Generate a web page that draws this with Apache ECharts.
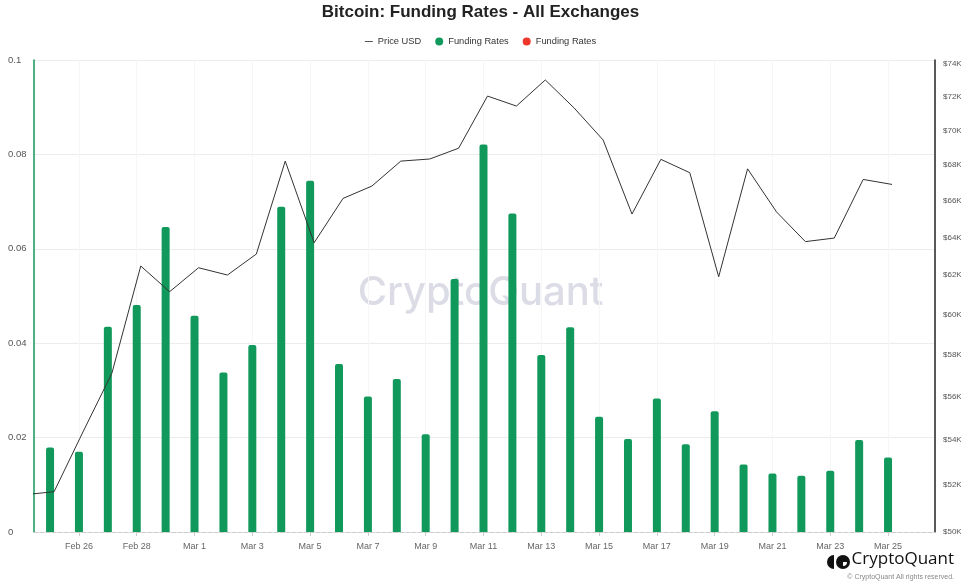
<!DOCTYPE html>
<html>
<head>
<meta charset="utf-8">
<script src="https://cdn.jsdelivr.net/npm/echarts@6/dist/echarts.min.js"></script>
<style>
  html, body { margin: 0; padding: 0; background: #fff; }
  #chart { width: 961px; height: 588px; }
</style>
</head>
<body>
<div id="chart"></div>
<script>
// bar dates (daily)
var dates = ['2024-02-25','2024-02-26','2024-02-27','2024-02-28','2024-02-29',
  '2024-03-01','2024-03-02','2024-03-03','2024-03-04','2024-03-05','2024-03-06',
  '2024-03-07','2024-03-08','2024-03-09','2024-03-10','2024-03-11','2024-03-12',
  '2024-03-13','2024-03-14','2024-03-15','2024-03-16','2024-03-17','2024-03-18',
  '2024-03-19','2024-03-20','2024-03-21','2024-03-22','2024-03-23','2024-03-24',
  '2024-03-25'];
var fundingRates = [0.0179, 0.0170, 0.0435, 0.0481, 0.0646, 0.0458, 0.0338, 0.0396,
  0.0689, 0.0744, 0.0356, 0.0287, 0.0324, 0.0207, 0.0536, 0.0821, 0.0675, 0.0375,
  0.0434, 0.0244, 0.0197, 0.0283, 0.0186, 0.0256, 0.0143, 0.0124, 0.0119, 0.0130,
  0.0195, 0.0158];
var negativeRates = []; // no negative funding in this window

// price samples (taken a few hours after the funding stamp)
var priceDates = ['2024-02-24 03:20','2024-02-25 03:20','2024-02-26 03:20','2024-02-27 03:20',
  '2024-02-28 03:20','2024-02-29 03:20','2024-03-01 03:20','2024-03-02 03:20','2024-03-03 03:20',
  '2024-03-04 03:20','2024-03-05 03:20','2024-03-06 03:20','2024-03-07 03:20','2024-03-08 03:20',
  '2024-03-09 03:20','2024-03-10 03:20','2024-03-11 03:20','2024-03-12 03:20','2024-03-13 03:20',
  '2024-03-14 03:20','2024-03-15 03:20','2024-03-16 03:20','2024-03-17 03:20','2024-03-18 03:20',
  '2024-03-19 03:20','2024-03-20 03:20','2024-03-21 03:20','2024-03-22 03:20','2024-03-23 03:20',
  '2024-03-24 03:20','2024-03-25 03:20'];
var prices = [51590, 51716, 54370, 57110, 62480, 61150, 62390, 62010, 63110, 68220,
  63710, 66120, 66810, 68220, 68340, 68960, 72040, 71440, 73020, 71320, 69440, 65260,
  68320, 67560, 61920, 67780, 65380, 63770, 63960, 67180, 66900];

// axis labels
var xTickDates = ['2024-02-26','2024-02-28','2024-03-01','2024-03-03','2024-03-05',
  '2024-03-07','2024-03-09','2024-03-11','2024-03-13','2024-03-15','2024-03-17',
  '2024-03-19','2024-03-21','2024-03-23','2024-03-25'];
var priceTicks = [50000, 52000, 54000, 56000, 58000, 60000, 62000, 64000, 66000,
  68000, 70000, 72000, 74000];
var monthNames = ['Jan','Feb','Mar','Apr','May','Jun','Jul','Aug','Sep','Oct','Nov','Dec'];

var chart = echarts.init(document.getElementById('chart'));
var t = function (s) { return +echarts.time.parse(s); };
var xTicks = xTickDates.map(t);

chart.setOption({
  animation: false,
  textStyle: { fontFamily: 'Liberation Sans, Arial, sans-serif' },
  title: {
    text: 'Bitcoin: Funding Rates - All Exchanges',
    left: 'center',
    top: -1,
    textStyle: { fontSize: 17, fontWeight: 'bold', color: '#222' }
  },
  legend: {
    top: 32,
    left: 'center',
    itemGap: 14,
    itemWidth: 8,
    itemHeight: 8,
    textStyle: { fontSize: 9.3, color: '#333' },
    formatter: function (name) { return name.indexOf('Funding') === 0 ? 'Funding Rates' : name; },
    data: [
      { name: 'Price USD', icon: 'path://M0,0 H8 V1 H0 Z', itemStyle: { color: '#555' } },
      { name: 'Funding Rates (+)', icon: 'circle' },
      { name: 'Funding Rates (-)', icon: 'circle' }
    ]
  },
  grid: { left: 34, right: 26, top: 60, bottom: 56, outerBoundsMode: 'none' },
  xAxis: {
    type: 'value',
    min: t('2024-02-24 10:40'),
    max: t('2024-03-26 15:00'),
    axisLine: { lineStyle: { color: '#ccc', type: 'dashed' } },
    axisTick: { customValues: xTicks, length: 4, lineStyle: { color: '#ccc' } },
    axisLabel: {
      customValues: xTicks,
      color: '#666',
      fontSize: 9,
      margin: 10,
      formatter: function (v) {
        var d = new Date(v);
        return monthNames[d.getMonth()] + ' ' + d.getDate();
      }
    },
    splitLine: { show: true, lineStyle: { color: '#f6f6f6' } }
  },
  yAxis: [
    {
      type: 'value',
      min: 0,
      max: 0.1,
      interval: 0.02,
      axisLine: { show: true, lineStyle: { color: '#10995b', width: 1.5 } },
      axisTick: { show: false },
      axisLabel: { color: '#555', fontSize: 9.5, align: 'left', margin: 26 },
      splitLine: { lineStyle: { color: '#ececec' } }
    },
    {
      type: 'log',
      position: 'right',
      min: 50000,
      max: 74250,
      axisLine: { show: true, lineStyle: { color: '#222', width: 1.5 } },
      axisTick: { show: false },
      axisLabel: {
        customValues: priceTicks,
        color: '#555',
        fontSize: 8,
        margin: 8,
        formatter: function (v) { return '$' + Math.round(v / 1000) + 'K'; }
      },
      splitLine: { show: false }
    }
  ],
  series: [
    {
      name: 'Price USD',
      type: 'line',
      yAxisIndex: 1,
      symbol: 'none',
      color: '#333',
      lineStyle: { width: 1, color: '#333' },
      data: priceDates.map(function (d, i) { return [t(d), prices[i]]; }),
      z: 5
    },
    {
      name: 'Funding Rates (+)',
      type: 'bar',
      stack: 'fr',
      barWidth: 8,
      color: '#10995b',
      itemStyle: { borderRadius: [2, 2, 0, 0] },
      data: dates.map(function (d, i) { return [t(d), fundingRates[i]]; })
    },
    {
      name: 'Funding Rates (-)',
      type: 'bar',
      stack: 'fr',
      barWidth: 8,
      color: '#f0372c',
      data: negativeRates
    }
  ],
  graphic: [
    {
      type: 'text',
      left: 'center',
      top: 273,
      silent: true,
      z: 0,
      style: { text: 'CryptoQuant', fill: '#dcdce7', font: '500 40px Inter, sans-serif' }
    },
    {
      type: 'sector',
      shape: { cx: 834, cy: 562, r: 7, r0: 0, startAngle: Math.PI / 2, endAngle: Math.PI * 1.5 },
      style: { fill: '#111' }
    },
    {
      type: 'circle',
      shape: { cx: 843, cy: 562, r: 7 },
      style: { fill: '#111' }
    },
    {
      type: 'sector',
      shape: { cx: 843, cy: 562, r: 4, r0: 0, startAngle: 0, endAngle: Math.PI / 2 },
      style: { fill: '#fff' }
    },
    {
      type: 'text',
      right: 7,
      top: 551,
      style: { text: 'CryptoQuant', fill: '#111', font: '17px "Open Sans", sans-serif' }
    },
    {
      type: 'text',
      right: 7,
      top: 574,
      style: { text: '\u00a9 CryptoQuant All rights reserved.', fill: '#888', font: '7px "Liberation Sans", sans-serif' }
    }
  ]
});
</script>
</body>
</html>
